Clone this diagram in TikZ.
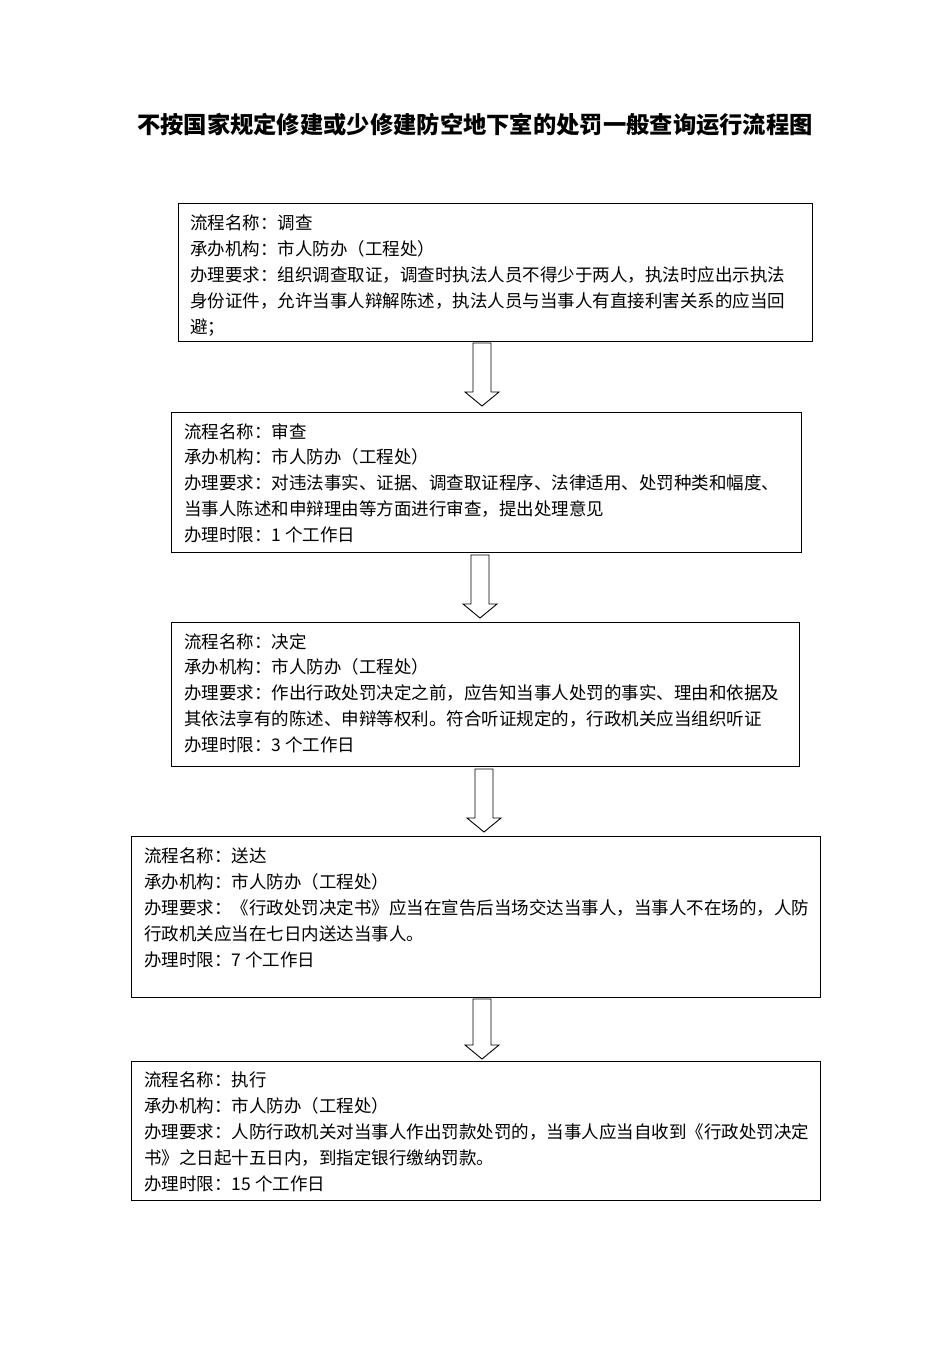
\documentclass[tikz,border=0pt]{standalone}
\usepackage{fontspec}
\setmainfont{Noto Sans CJK SC}
\begin{document}
\begin{tikzpicture}[x=1pt,y=-1pt,
  box/.style={draw, line width=0.9pt, inner sep=0pt, anchor=north west},
  txt/.style={anchor=north west, align=left, inner sep=0pt, font=\fontsize{17.5}{25.8}\selectfont},
  blockarrow/.style={draw, line width=0.9pt, fill=white, line join=miter}]
\useasboundingbox[fill=white] (0,0) rectangle (952,1363);

\node[font=\bfseries\fontsize{23.3}{28}\selectfont] (title) at (475,125) {不按国家规定修建或少修建防空地下室的处罚一般查询运行流程图};

% boxes
\node[box, minimum width=634pt, minimum height=138pt] (b1) at (178,203) {};
\node[box, minimum width=630pt, minimum height=140pt] (b2) at (171,412) {};
\node[box, minimum width=628pt, minimum height=144pt] (b3) at (171,622) {};
\node[box, minimum width=689pt, minimum height=161pt] (b4) at (131,836) {};
\node[box, minimum width=689pt, minimum height=139pt] (b5) at (131,1061) {};

% texts
\node[txt] (t1) at (190,215) {流程名称：调查\\承办机构：市人防办（工程处）\\办理要求：组织调查取证，调查时执法人员不得少于两人，执法时应出示执法\\身份证件，允许当事人辩解陈述，执法人员与当事人有直接利害关系的应当回\\避；};
\node[txt] (t2) at (184,423) {流程名称：审查\\承办机构：市人防办（工程处）\\办理要求：对违法事实、证据、调查取证程序、法律适用、处罚种类和幅度、\\当事人陈述和申辩理由等方面进行审查，提出处理意见\\办理时限：1 个工作日};
\node[txt] (t3) at (184,633) {流程名称：决定\\承办机构：市人防办（工程处）\\办理要求：作出行政处罚决定之前，应告知当事人处罚的事实、理由和依据及\\其依法享有的陈述、申辩等权利。符合听证规定的，行政机关应当组织听证\\办理时限：3 个工作日};
\node[txt] (t4) at (144,848) {流程名称：送达\\承办机构：市人防办（工程处）\\办理要求：《行政处罚决定书》应当在宣告后当场交达当事人，当事人不在场的，人防\\行政机关应当在七日内送达当事人。\\办理时限：7 个工作日};
\node[txt] (t5) at (144,1072) {流程名称：执行\\承办机构：市人防办（工程处）\\办理要求：人防行政机关对当事人作出罚款处罚的，当事人应当自收到《行政处罚决定\\书》之日起十五日内，到指定银行缴纳罚款。\\办理时限：15 个工作日};

% block arrows
\coordinate (a1) at (482,343);
\coordinate (a2) at (480,555);
\coordinate (a3) at (484,769);
\coordinate (a4) at (482,999);
\foreach \a/\s in {a1/49,a2/49,a3/49,a4/46}{
  \draw[blockarrow] (\a) ++(-9,0) -- ++(0,\s) -- ++(-8,0) -- ++(17,14) -- ++(17,-14) -- ++(-8,0) -- ++(0,-\s) -- cycle;
}
\end{tikzpicture}
\end{document}
